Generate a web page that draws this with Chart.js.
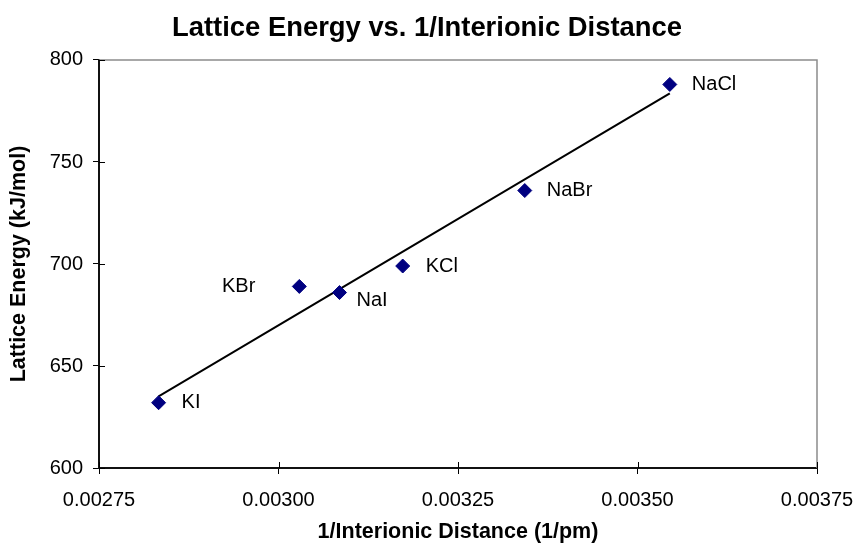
<!DOCTYPE html>
<html>
<head>
<meta charset="utf-8">
<script src="https://cdn.jsdelivr.net/npm/chart.js@4/dist/chart.umd.min.js"></script>
<style>
  html, body { margin: 0; padding: 0; background: #fff; }
  #wrap { width: 854px; height: 544px; }
</style>
</head>
<body>
<div id="wrap"><canvas id="c" width="854" height="544"></canvas></div>
<script>
// ---- data ----
const compounds = ['NaCl', 'NaBr', 'KCl', 'NaI', 'KBr', 'KI'];
const invDistance = [0.003545, 0.003343, 0.003173, 0.003085, 0.003029, 0.002833];
const latticeEnergy = [788, 736, 699, 686, 689, 632];
const xTicks = [0.00275, 0.00300, 0.00325, 0.00350, 0.00375];
const yTicks = [600, 650, 700, 750, 800];

// least-squares trend line over the data points (Excel linear trendline)
function linearFit(xs, ys) {
  const n = xs.length;
  const mx = xs.reduce((a, b) => a + b, 0) / n;
  const my = ys.reduce((a, b) => a + b, 0) / n;
  let sxy = 0, sxx = 0;
  for (let i = 0; i < n; i++) { sxy += (xs[i] - mx) * (ys[i] - my); sxx += (xs[i] - mx) ** 2; }
  const slope = sxy / sxx;
  return { slope, intercept: my - slope * mx };
}
const fit = linearFit(invDistance, latticeEnergy);
const xMinData = Math.min(...invDistance), xMaxData = Math.max(...invDistance);
const trendPoints = [xMinData, xMaxData].map(x => ({ x, y: fit.slope * x + fit.intercept }));

const points = invDistance.map((x, i) => ({ x, y: latticeEnergy[i] }));

// label placement (style only): offsets in px from marker
const labelStyle = {
  NaCl: { dx: 22, dy: 0, align: 'left' },
  NaBr: { dx: 22, dy: 0, align: 'left' },
  KCl:  { dx: 23, dy: 0, align: 'left' },
  NaI:  { dx: 17, dy: 8, align: 'left' },
  KBr:  { dx: -44, dy: 0, align: 'right' },
  KI:   { dx: 23, dy: 0, align: 'left' }
};

const FONT = "'Liberation Sans', Arial, Helvetica, sans-serif";

const framePlugin = {
  id: 'frame',
  beforeDatasetsDraw(chart) {
    const { ctx, chartArea: a, scales } = chart;
    ctx.save();
    // gray plot-area outline (top & right)
    ctx.strokeStyle = '#8c8c8c';
    ctx.lineWidth = 1.5;
    ctx.beginPath();
    ctx.moveTo(a.left, a.top); ctx.lineTo(a.right, a.top); ctx.lineTo(a.right, a.bottom);
    ctx.stroke();
    // inner halves of crossing tick marks
    ctx.strokeStyle = '#000';
    ctx.lineWidth = 1;
    ctx.beginPath();
    scales.x.ticks.forEach(t => {
      const px = Math.round(scales.x.getPixelForValue(t.value)) + 0.5;
      ctx.moveTo(px, a.bottom); ctx.lineTo(px, a.bottom - 6);
    });
    scales.y.ticks.forEach(t => {
      const py = Math.round(scales.y.getPixelForValue(t.value)) + 0.5;
      ctx.moveTo(a.left, py); ctx.lineTo(a.left + 6, py);
    });
    ctx.stroke();
    ctx.restore();
  },
  afterDatasetsDraw(chart) {
    const { ctx, scales } = chart;
    ctx.save();
    ctx.font = '20px ' + FONT;
    ctx.fillStyle = '#000';
    ctx.textBaseline = 'middle';
    compounds.forEach((name, i) => {
      const st = labelStyle[name];
      const px = scales.x.getPixelForValue(invDistance[i]);
      const py = scales.y.getPixelForValue(latticeEnergy[i]);
      ctx.textAlign = st.align;
      ctx.fillText(name, px + st.dx, py + st.dy);
    });
    ctx.restore();
  }
};

new Chart(document.getElementById('c'), {
  type: 'scatter',
  data: {
    datasets: [
      {
        label: 'Trend',
        type: 'line',
        data: trendPoints,
        borderColor: '#000',
        borderWidth: 2,
        pointRadius: 0,
        fill: false,
        order: 2
      },
      {
        label: 'Lattice Energy',
        data: points,
        pointStyle: 'rectRot',
        pointRadius: 7,
        pointBackgroundColor: '#000080',
        pointBorderColor: '#000080',
        pointBorderWidth: 1,
        order: 1
      }
    ]
  },
  options: {
    responsive: false,
    animation: false,
    devicePixelRatio: 1,
    layout: { padding: { left: 0, right: 0, top: 0, bottom: 0 } },
    plugins: {
      legend: { display: false },
      tooltip: { enabled: false },
      title: {
        display: true,
        text: 'Lattice Energy vs. 1/Interionic Distance',
        color: '#000',
        font: { family: FONT, size: 27.4, weight: 'bold', lineHeight: 1.2 },
        padding: { top: 12, bottom: 15.1 }
      }
    },
    scales: {
      x: {
        type: 'linear',
        min: xTicks[0],
        max: xTicks[xTicks.length - 1],
        afterBuildTicks(scale) { scale.ticks = xTicks.map(v => ({ value: v })); },
        afterFit(scale) { scale.height = 76; scale.paddingLeft = 0; scale.paddingRight = 37; },
        border: { display: true, color: '#111', width: 2 },
        grid: { drawOnChartArea: false, drawTicks: true, tickLength: 6, color: '#000', lineWidth: 1 },
        ticks: {
          color: '#000',
          padding: 14,
          font: { family: FONT, size: 20 },
          maxRotation: 0,
          callback: v => Number(v).toFixed(5)
        },
        title: {
          display: true,
          text: '1/Interionic Distance (1/pm)',
          color: '#000',
          font: { family: FONT, size: 21.5, weight: 'bold', lineHeight: 1 },
          padding: { top: 0, bottom: 1 }
        }
      },
      y: {
        type: 'linear',
        min: yTicks[0],
        max: yTicks[yTicks.length - 1],
        afterBuildTicks(scale) { scale.ticks = yTicks.map(v => ({ value: v })); },
        afterFit(scale) { scale.width = 99; scale.paddingTop = 0; scale.paddingBottom = 0; },
        border: { display: true, color: '#111', width: 2 },
        grid: { drawOnChartArea: false, drawTicks: true, tickLength: 6, color: '#000', lineWidth: 1 },
        ticks: {
          color: '#000',
          padding: 10,
          font: { family: FONT, size: 20 },
          callback: v => String(v)
        },
        title: {
          display: true,
          text: 'Lattice Energy (kJ/mol)',
          color: '#000',
          font: { family: FONT, size: 21.5, weight: 'bold', lineHeight: 1 },
          padding: { top: 8, bottom: 0 }
        }
      }
    }
  },
  plugins: [framePlugin]
});
</script>
</body>
</html>
